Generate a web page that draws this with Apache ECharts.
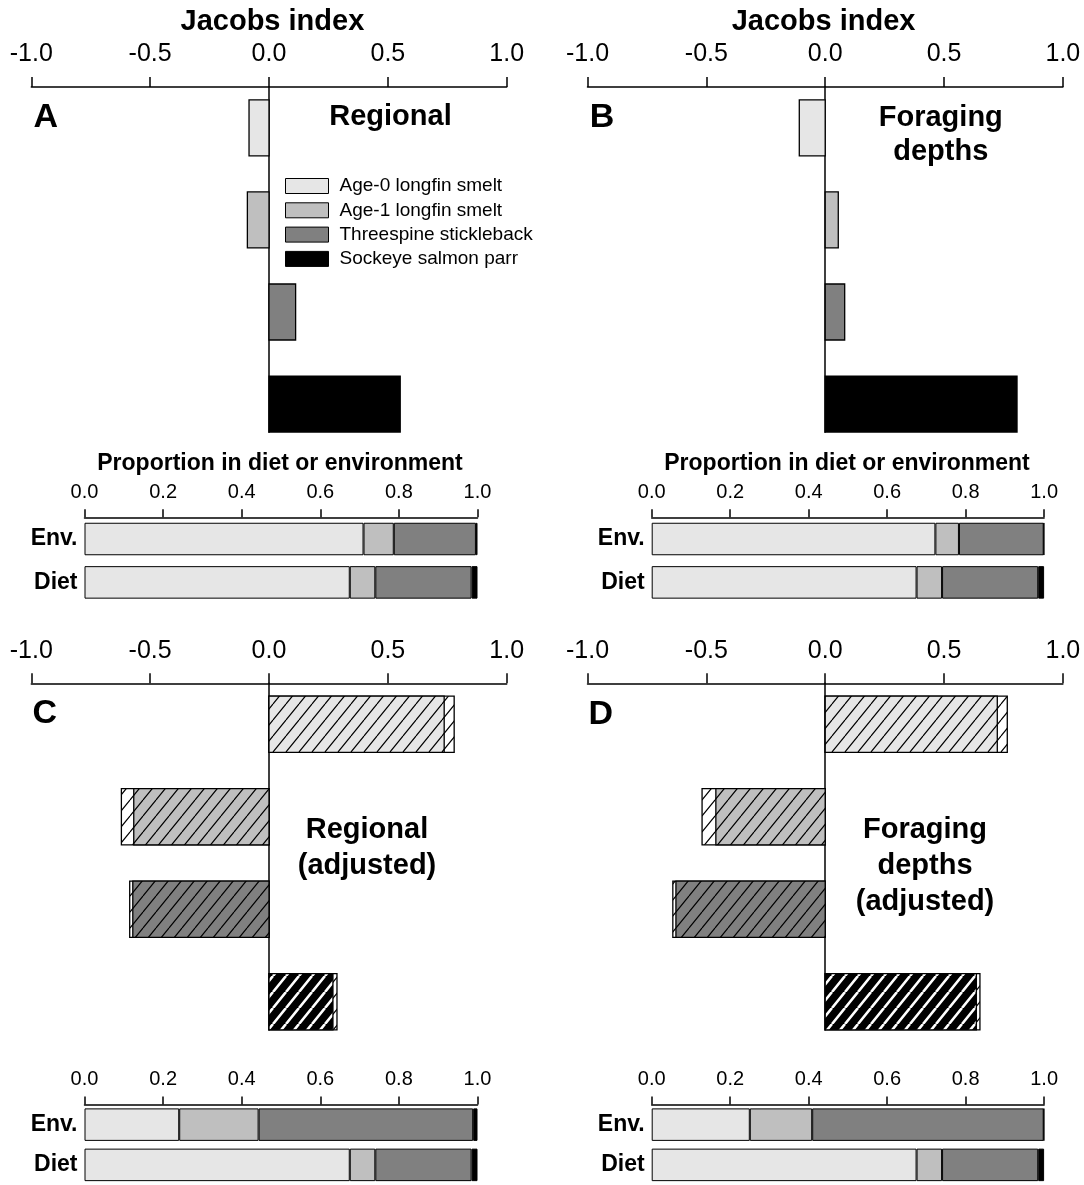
<!DOCTYPE html>
<html>
<head>
<meta charset="utf-8">
<script src="https://cdn.jsdelivr.net/npm/echarts@6/dist/echarts.min.js"></script>
<style>
html,body{margin:0;padding:0;background:#fff;}
#chart{width:1084px;height:1185px;}
</style>
</head>
<body>
<div id="chart"></div>
<script>
// ---------------- data ----------------
const species = ['Age-0 longfin smelt', 'Age-1 longfin smelt', 'Threespine stickleback', 'Sockeye salmon parr'];
const envDietCategories = ['Env.', 'Diet'];
const jacobsTicks = [-1.0, -0.5, 0.0, 0.5, 1.0];
const proportionTicks = [0.0, 0.2, 0.4, 0.6, 0.8, 1.0];

// Jacobs index values (panel A, B: single value; C, D: adjusted value + upper bound)
const jacobsRegional = [-0.084, -0.091, 0.112, 0.552];
const jacobsForaging = [-0.109, 0.055, 0.082, 0.807];
const jacobsRegionalAdj = [0.737, -0.569, -0.573, 0.269];
const jacobsRegionalAdjUpper = [0.779, -0.621, -0.586, 0.286];
const jacobsForagingAdj = [0.724, -0.460, -0.628, 0.636];
const jacobsForagingAdjUpper = [0.766, -0.518, -0.641, 0.651];

// proportions in environment / diet
const envRegional = [0.710, 0.077, 0.209, 0.004];
const envForaging = [0.723, 0.060, 0.216, 0.001];
const envRegionalAdj = [0.241, 0.202, 0.546, 0.011];
const envForagingAdj = [0.250, 0.159, 0.590, 0.001];
const dietProportion = [0.675, 0.065, 0.245, 0.015];

// ---------------- styling ----------------
const FONT = '"Liberation Sans", Arial, Helvetica, sans-serif';
const colors = ['#e6e6e6', '#bfbfbf', '#808080', '#000000'];

function hatch(bg, fg, w, h, lw) {
  const c = document.createElement('canvas');
  c.width = w; c.height = h;
  const g = c.getContext('2d');
  g.fillStyle = bg; g.fillRect(0, 0, w, h);
  g.strokeStyle = fg; g.lineWidth = lw;
  g.beginPath();
  for (const o of [-w, 0, w]) { g.moveTo(o, h); g.lineTo(o + w, 0); }
  g.stroke();
  return {image: c, repeat: 'repeat'};
}
const HW = 13, HH = 16;
const hatchColor = [
  hatch(colors[0], '#000', HW, HH, 1.2),
  hatch(colors[1], '#000', HW, HH, 1.2),
  hatch(colors[2], '#000', HW, HH, 1.2),
  hatch('#000', '#fff', HW, HH, 2.6)
];
const hatchWhite = hatch('#fff', '#000', HW, HH, 1.2);

// ---------------- layout ----------------
const jacobsGrids = [
  {left: 31.3, top: 87, width: 475.4, height: 345.3},
  {left: 587.5, top: 87, width: 475.4, height: 345.3},
  {left: 31.3, top: 683.3, width: 475.4, height: 346.7},
  {left: 587.5, top: 683.3, width: 475.4, height: 346.7}
];
const propGrids = [
  {left: 84.5, top: 517.3, width: 393, height: 86.8},
  {left: 651.7, top: 517.3, width: 392.4, height: 86.8},
  {left: 84.5, top: 1104.5, width: 393, height: 87.6},
  {left: 651.7, top: 1104.5, width: 392.4, height: 87.6}
];
const HALF = 0.304;
const yMin = -0.443, yMax = 3.306;

const panels = [
  {vals: jacobsRegional, upper: null, env: envRegional},
  {vals: jacobsForaging, upper: null, env: envForaging},
  {vals: jacobsRegionalAdj, upper: jacobsRegionalAdjUpper, env: envRegionalAdj},
  {vals: jacobsForagingAdj, upper: jacobsForagingAdjUpper, env: envForagingAdj}
];

const grid = [], xAxis = [], yAxis = [], series = [];

jacobsGrids.forEach((g, i) => {
  grid.push(Object.assign({containLabel: false}, g));
  xAxis.push({
    gridIndex: i, type: 'value', position: 'top', min: jacobsTicks[0], max: jacobsTicks[jacobsTicks.length - 1], interval: 0.5,
    axisLine: {show: true, onZero: false, lineStyle: {color: '#000', width: 1.5}},
    axisTick: {show: true, length: 10, lineStyle: {color: '#000', width: 1.5}},
    axisLabel: {margin: 20, fontSize: 25, color: '#000', fontFamily: FONT, formatter: v => Number(v).toFixed(1)},
    splitLine: {show: false}
  });
  yAxis.push({
    gridIndex: i, type: 'value', inverse: true, min: yMin, max: yMax,
    axisLine: {show: true, onZero: true, lineStyle: {color: '#000', width: 1.5}},
    axisTick: {show: false}, axisLabel: {show: false}, splitLine: {show: false}
  });
  const p = panels[i];
  const data = p.vals.map((v, k) => [v, k, p.upper ? p.upper[k] : 0]);
  const hatched = !!p.upper;
  series.push({
    type: 'custom', name: 'Jacobs ' + 'ABCD'[i], xAxisIndex: i, yAxisIndex: i,
    dimensions: ['jacobs', 'idx', 'upper'],
    encode: {x: 0, y: 1},
    data: data,
    renderItem: (params, api) => {
      const v = api.value(0), idx = api.value(1), up = api.value(2);
      const rect = (x1) => {
        const a = api.coord([0, idx - HALF]);
        const b = api.coord([x1, idx + HALF]);
        return {x: Math.min(a[0], b[0]), y: Math.min(a[1], b[1]), width: Math.abs(b[0] - a[0]), height: Math.abs(b[1] - a[1])};
      };
      const children = [];
      if (hatched) {
        children.push({type: 'rect', shape: rect(up), style: {fill: hatchWhite, stroke: '#000', lineWidth: 1.3}});
        children.push({type: 'rect', shape: rect(v), style: {fill: hatchColor[idx], stroke: '#000', lineWidth: 1.3}});
      } else {
        children.push({type: 'rect', shape: rect(v), style: {fill: colors[idx], stroke: '#000', lineWidth: 1.3}});
      }
      return {type: 'group', children: children};
    }
  });
});

propGrids.forEach((g, j) => {
  const gi = 4 + j;
  grid.push(Object.assign({containLabel: false}, g));
  xAxis.push({
    gridIndex: gi, type: 'value', position: 'top', min: proportionTicks[0], max: proportionTicks[proportionTicks.length - 1], interval: 0.2,
    axisLine: {show: true, onZero: false, lineStyle: {color: '#000', width: 1.5}},
    axisTick: {show: true, length: 8, lineStyle: {color: '#000', width: 1.5}},
    axisLabel: {margin: 15, fontSize: 20, color: '#000', fontFamily: FONT, formatter: v => Number(v).toFixed(1)},
    splitLine: {show: false}
  });
  yAxis.push({
    gridIndex: gi, type: 'category', data: envDietCategories, inverse: true,
    axisLine: {show: false}, axisTick: {show: false},
    axisLabel: {margin: 7, fontSize: 23, fontWeight: 'bold', color: '#000', fontFamily: FONT}
  });
  const env = panels[j].env;
  species.forEach((name, k) => {
    series.push({
      type: 'bar', name: name, xAxisIndex: gi, yAxisIndex: gi, stack: 'prop' + j,
      barWidth: 32.5,
      data: [env[k], dietProportion[k]],
      itemStyle: {color: colors[k], borderColor: '#000', borderWidth: 1}
    });
  });
});

function txt(text, x, y, size, bold, lh) {
  const font = (bold ? 'bold ' : '') + size + 'px ' + FONT;
  return {type: 'text', x: x, y: y, silent: true,
    style: {text: text, font: font, fill: '#000', align: 'center', verticalAlign: 'middle',
            textAlign: 'center', textVerticalAlign: 'middle', lineHeight: lh || size}};
}

const graphic = [
  txt('Jacobs index', 272.4, 22, 29, true),
  txt('Jacobs index', 823.6, 22, 29, true),
  txt('A', 45.7, 117.5, 34, true),
  txt('B', 602, 118, 34, true),
  txt('C', 44.8, 713.3, 34, true),
  txt('D', 600.7, 715, 34, true),
  txt('Regional', 390.5, 117, 29, true),
  txt('Foraging\ndepths', 940.8, 134.8, 29, true, 34.5),
  txt('Regional\n(adjusted)', 367, 848, 29, true, 36),
  txt('Foraging\ndepths\n(adjusted)', 925, 866, 29, true, 35.8),
  txt('Proportion in diet or environment', 280, 463.3, 23, true),
  txt('Proportion in diet or environment', 847, 463.3, 23, true)
];

const option = {
  animation: false,
  backgroundColor: '#fff',
  textStyle: {fontFamily: FONT},
  legend: {
    data: species, orient: 'vertical', left: 285, top: 176.5, padding: 0,
    itemWidth: 43, itemHeight: 15, itemGap: 5.3, icon: 'rect',
    itemStyle: {borderColor: '#000', borderWidth: 1},
    textStyle: {fontSize: 19, color: '#000', fontFamily: FONT, padding: [0, 0, 0, 6]},
    selectedMode: false
  },
  grid: grid, xAxis: xAxis, yAxis: yAxis, series: series, graphic: graphic
};

const chart = echarts.init(document.getElementById('chart'), null, {renderer: 'canvas', width: 1084, height: 1185});
chart.setOption(option);
</script>
</body>
</html>
